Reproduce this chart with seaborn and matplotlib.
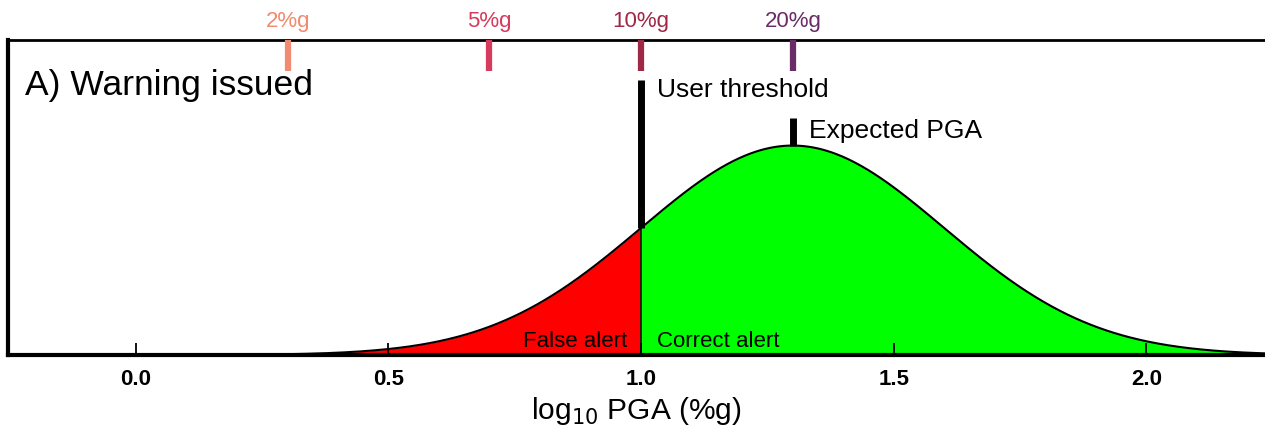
import numpy as np
import pandas as pd
import matplotlib
matplotlib.use("Agg")
import matplotlib.pyplot as plt
import seaborn as sns

sns.set_theme(style="white")
plt.rcParams['font.family'] = ['Liberation Sans', 'DejaVu Sans']
plt.rcParams['text.color'] = 'black'
plt.rcParams['axes.labelcolor'] = 'black'
plt.rcParams['xtick.color'] = 'black'

# Data
expected_log_pga = 1.3      # mean of log10 PGA distribution
sigma_log_pga = 0.3         # std dev
user_threshold = 1.0        # log10(10 %g)
marker_labels = ["2%g", "5%g", "10%g", "20%g"]
marker_pga = [2, 5, 10, 20]
marker_colors = ["#f08a70", "#d63a5c", "#9f2846", "#6a2c66"]
xticks = [0.0, 0.5, 1.0, 1.5, 2.0]

x = np.linspace(-0.26, 2.24, 800)
pdf = np.exp(-0.5 * ((x - expected_log_pga) / sigma_log_pga) ** 2) / (sigma_log_pga * np.sqrt(2 * np.pi))
df = pd.DataFrame({"x": x, "pdf": pdf})

fig = plt.figure(figsize=(12.65, 4.4), dpi=100)
ax = fig.add_axes([8 / 1265, 1 - 355 / 440, 1257 / 1265, 315 / 440])

ax.fill_between(x, 0, pdf, where=x <= user_threshold, color="#ff0000", lw=0, zorder=1)
ax.fill_between(x, 0, pdf, where=x >= user_threshold, color="#00ff00", lw=0, zorder=1)
sns.lineplot(data=df, x="x", y="pdf", color="black", lw=1.5, ax=ax, zorder=3)

pdf_thr = np.exp(-0.5 * ((user_threshold - expected_log_pga) / sigma_log_pga) ** 2) / (sigma_log_pga * np.sqrt(2 * np.pi))
pdf_peak = 1 / (sigma_log_pga * np.sqrt(2 * np.pi))
ax.vlines(user_threshold, 0, pdf_thr, color="black", lw=1.2, zorder=2)
ax.vlines(user_threshold, pdf_thr, 1.746, color="black", lw=5, zorder=4)
ax.vlines(expected_log_pga, pdf_peak, 1.505, color="black", lw=5, zorder=4)

ax.text(user_threshold + 0.032, 1.68, "User threshold", fontsize=19, va="center", ha="left")
ax.text(expected_log_pga + 0.032, 1.42, "Expected PGA", fontsize=19, va="center", ha="left")
ax.text(17 / 1257, 0.855, "A) Warning issued", fontsize=25.5, transform=ax.transAxes, va="center", ha="left")
ax.text(user_threshold - 0.028, 0.085, "False alert", fontsize=16, ha="right", va="center")
ax.text(user_threshold + 0.032, 0.085, "Correct alert", fontsize=16, ha="left", va="center")

for lab, p, c in zip(marker_labels, marker_pga, marker_colors):
    lx = np.log10(p)
    ax.vlines(lx, 1.8, 2.0, color=c, lw=4.5, zorder=5, clip_on=False)
    ax.text(lx, 2.05, lab, color=c, fontsize=16, ha="center", va="bottom")

ax.set_xlim(-0.253, 2.235)
ax.set_ylim(0, 2.0)
ax.set_xticks(xticks)
ax.set_xticklabels([f"{t:.1f}" for t in xticks], fontsize=16, fontweight="bold")
ax.set_yticks([])
ax.tick_params(axis="x", direction="in", length=9, width=1.3, color="black", pad=10, bottom=True)
ax.set_xlabel("log$_{10}$ PGA (%g)", fontsize=21.5, labelpad=4)
ax.set_ylabel("")
for s in ["left", "top"]:
    ax.spines[s].set_color("black")
    ax.spines[s].set_linewidth(2)
ax.spines["right"].set_visible(False)
ax.spines["left"].set_linewidth(3)
ax.spines["bottom"].set_color("black")
ax.spines["bottom"].set_linewidth(3)
for t in ax.xaxis.get_major_ticks():
    t.tick1line.set_zorder(6)
ax.set_axisbelow(False)

fig.savefig("out.png", dpi=100)
